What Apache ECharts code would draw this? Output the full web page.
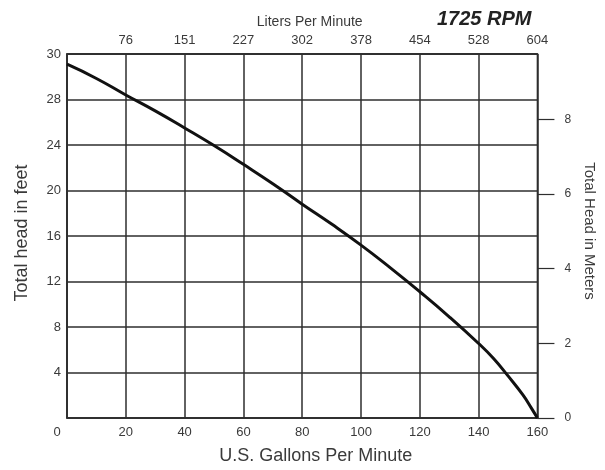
<!DOCTYPE html>
<html><head><meta charset="utf-8">
<script src="https://cdn.jsdelivr.net/npm/echarts@6/dist/echarts.min.js"></script>
<style>html,body{margin:0;padding:0;background:#fff}#c{width:605px;height:470px}</style>
</head><body><div id="c"></div>
<script>
// Flow in U.S. gallons per minute and total head in feet
const gpm  = [0, 10, 20, 30, 40, 50, 60, 70, 80, 90, 100, 110, 120, 130, 140, 145, 150, 155, 158, 160];
const head = [31.1, 29.85, 28.4, 27.0, 25.5, 23.95, 22.3, 20.6, 18.8, 17.05, 15.2, 13.2, 11.1, 8.9, 6.55, 5.25, 3.7, 2.05, 0.85, 0];
// Tick labels
const gpmTicks = [0, 20, 40, 60, 80, 100, 120, 140, 160];
const literLabels = ['', '76', '151', '227', '302', '378', '454', '528', '604'];
const feetTicks = [0, 4, 8, 12, 16, 20, 24, 28, 32];
const feetLabels = ['', '4', '8', '12', '16', '20', '24', '28', '30'];
const meterTicks = [0, 2, 4, 6, 8];

const txt = '#3a3a3a', grid = '#2e2e2e', font = 'Liberation Sans';
const chart = echarts.init(document.getElementById('c'), null, {renderer: 'canvas'});
chart.setOption({
  backgroundColor: '#fff',
  animation: false,
  title: {text: '1725 RPM', left: 432, top: 4,
    textStyle: {fontFamily: font, fontSize: 20, fontWeight: 'bold', fontStyle: 'italic', color: '#222'}},
  grid: {left: 67, right: 65, top: 54, bottom: 49, show: true, borderColor: grid, borderWidth: 1.5, containLabel: false},
  xAxis: [{
    type: 'value', position: 'bottom', min: 0, max: 160, interval: 20,
    name: 'U.S. Gallons Per Minute', nameLocation: 'middle', nameGap: 29,
    nameTextStyle: {fontFamily: font, fontSize: 18, color: txt, padding: [0, 0, 0, 27]},
    axisLine: {show: true, onZero: false, lineStyle: {color: grid, width: 1.5}},
    axisTick: {show: false},
    axisLabel: {margin: 8, fontFamily: font, fontSize: 13, color: txt,
      formatter: v => gpmTicks.indexOf(v) === 0 ? '{z|0}' : String(v),
      rich: {z: {fontFamily: font, fontSize: 13, color: txt, padding: [0, 20, 0, 0]}}},
    splitLine: {show: true, lineStyle: {color: grid, width: 1.5}}
  }, {
    type: 'value', position: 'top', min: 0, max: 160, interval: 20,
    name: 'Liters Per Minute', nameLocation: 'middle', nameGap: 25,
    nameTextStyle: {fontFamily: font, fontSize: 14, color: txt, padding: [0, 0, 0, 15]},
    axisLine: {show: true, onZero: false, lineStyle: {color: grid, width: 1.5}},
    axisTick: {show: false},
    axisLabel: {margin: 7, fontFamily: font, fontSize: 13, color: txt,
      formatter: v => literLabels[gpmTicks.indexOf(v)] || ''},
    splitLine: {show: false}
  }],
  yAxis: [{
    type: 'value', position: 'left', min: 0, max: 32, interval: 4,
    name: 'Total head in feet', nameLocation: 'middle', nameGap: 36, nameRotate: 90,
    nameTextStyle: {fontFamily: font, fontSize: 18, color: txt, padding: [0, 0, 0, 6]},
    axisLine: {show: true, onZero: false, lineStyle: {color: grid, width: 1.5}},
    axisTick: {show: false},
    axisLabel: {margin: 6, fontFamily: font, fontSize: 13, color: txt,
      formatter: v => feetLabels[feetTicks.indexOf(v)] || ''},
    splitLine: {show: true, lineStyle: {color: grid, width: 1.5}}
  }, {
    type: 'value', position: 'right', min: 0, max: 32 / 3.2808,
    name: 'Total Head in Meters', nameLocation: 'middle', nameGap: 41, nameRotate: -90,
    nameTextStyle: {fontFamily: font, fontSize: 15, color: txt, padding: [0, 10, 0, 0]},
    axisLine: {show: false, onZero: false},
    axisTick: {show: true, inside: false, length: 17, customValues: meterTicks, lineStyle: {color: grid, width: 1.2}},
    axisLabel: {margin: 27, fontFamily: font, fontSize: 12, color: txt, customValues: meterTicks,
      formatter: v => String(v)},
    splitLine: {show: false}
  }],
  series: [{
    type: 'line', xAxisIndex: 0, yAxisIndex: 0, smooth: true, showSymbol: false,
    data: gpm.map((g, i) => [g, head[i]]),
    lineStyle: {color: '#111', width: 3}
  }]
});
</script></body></html>
